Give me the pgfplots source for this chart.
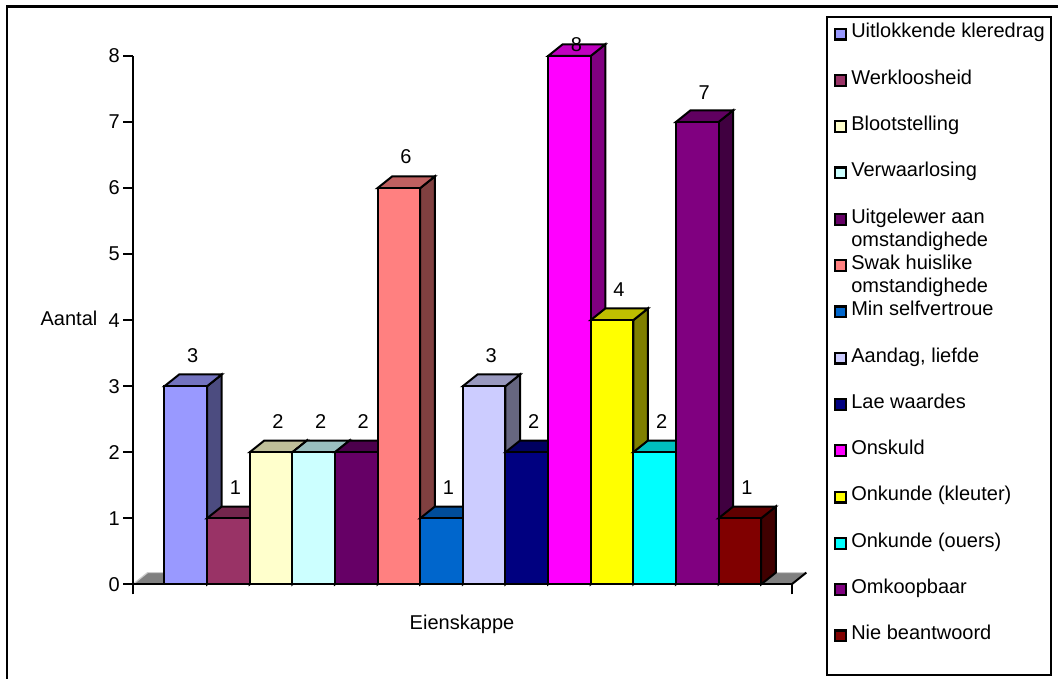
\documentclass[border=0pt]{standalone}
\usepackage{pgfplots}
\pgfplotsset{compat=1.18}
\usepackage{fontspec}
\setmainfont{Liberation Sans}
\newlength\px \setlength\px{0.75pt}
\definecolor{c0}{HTML}{9999FF}\definecolor{c1}{HTML}{993366}
\definecolor{c2}{HTML}{FFFFCC}\definecolor{c3}{HTML}{CCFFFF}
\definecolor{c4}{HTML}{660066}\definecolor{c5}{HTML}{FF8080}
\definecolor{c6}{HTML}{0066CC}\definecolor{c7}{HTML}{CCCCFF}
\definecolor{c8}{HTML}{000080}\definecolor{c9}{HTML}{FF00FF}
\definecolor{c10}{HTML}{FFFF00}\definecolor{c11}{HTML}{00FFFF}
\definecolor{c12}{HTML}{800080}\definecolor{c13}{HTML}{800000}
\newcommand\chartfont{\fontsize{15pt}{17pt}\selectfont}
\newcommand\leg[1]{\smash{\parbox[t]{200\px}{\setlength\baselineskip{23\px}#1}}}
\pgfplotsset{
  side/.style={forget plot,draw=black,line width=2\px,line join=miter,fill=#1!50!black},
  top/.style={forget plot,draw=black,line width=2\px,line join=miter,fill=#1!75!black},
  front/.style={ybar,bar shift=0pt,bar width=42.62\px,draw=black,line width=2\px,fill=#1,
    legend image code/.code={\draw[fill=#1,draw=black,line width=2.2\px] (0.6\px,-1.5\px) rectangle (11.4\px,9.3\px);
      \path[draw=none,fill=none] (0,0) -- (16.8\px,0);}},
  lab/.style={nodes near coords,
    every node near coord/.style={anchor=center,xshift=7\px,yshift=#1\px,inner sep=0pt,font=\chartfont,text=black}},
}
\begin{document}
\begin{tikzpicture}[x=1\px,y=1\px]
\useasboundingbox (0,0) rectangle (1058,679);
\fill[white] (0,0) rectangle (1058,679);
\draw[line width=2.4\px,black] (7,0) -- (7,672.5) -- (1058,672.5);
\draw[line width=2\px,black] (827,4) rectangle (1050.5,662);
\begin{axis}[
  at={(133\px,94.7\px)},anchor=south west,
  x=42.62\px,y=66.04\px,
  xmin=-0.739,xmax=14.716,ymin=0,ymax=8,
  axis lines=left,axis line style={-,line width=2\px,black},
  clip=false,axis on top,
  xtick={-0.739,14.716},xticklabels={},
  ytick={0,1,2,3,4,5,6,7,8},
  tick align=outside,major tick length=10\px,
  tick style={line width=2\px,black},
  /pgf/number format/assume math mode=true,
  tick label style={font=\chartfont},
  yticklabel style={inner sep=0pt,xshift=-3\px},
  legend cell align=left,
  legend style={at={(axis cs:-0.739,8)},anchor=north west,xshift=701\px,yshift=30\px,
    draw=none,fill=none,inner sep=0pt,outer sep=0pt,font=\chartfont,
    /tikz/column sep=0pt,/tikz/row sep=0pt,
    nodes={inner sep=0pt,outer sep=0pt,text height=12\px,text depth=34.3\px,anchor=base west}},
]
% floor
\addplot[forget plot,fill=gray,draw=none] coordinates {(-0.739,0) (14.716,0) (15.059,0.177) (-0.396,0.177)} -- cycle;
\addplot[forget plot,draw=black!20,line width=1.2\px] coordinates {(-0.739,0) (-0.396,0.177) (15.059,0.177)};
\addplot[forget plot,draw=black,line width=2\px] coordinates {(14.716,0) (15.059,0.177)};
% bar 0
\addplot[side=c0] coordinates {(1,0) (1,3) (1.343,3.177) (1.343,0.177)} -- cycle;
\addplot[top=c0] coordinates {(0,3) (1,3) (1.343,3.177) (0.343,3.177)} -- cycle;
\addplot[front=c0,lab=31] coordinates {(0.5,3)};
\addlegendentry{\leg{Uitlokkende kleredrag}}
% bar 1
\addplot[side=c1] coordinates {(2,0) (2,1) (2.343,1.177) (2.343,0.177)} -- cycle;
\addplot[top=c1] coordinates {(1,1) (2,1) (2.343,1.177) (1.343,1.177)} -- cycle;
\addplot[front=c1,lab=31] coordinates {(1.5,1)};
\addlegendentry{\leg{Werkloosheid}}
% bar 2
\addplot[side=c2] coordinates {(3,0) (3,2) (3.343,2.177) (3.343,0.177)} -- cycle;
\addplot[top=c2] coordinates {(2,2) (3,2) (3.343,2.177) (2.343,2.177)} -- cycle;
\addplot[front=c2,lab=31] coordinates {(2.5,2)};
\addlegendentry{\leg{Blootstelling}}
% bar 3
\addplot[side=c3] coordinates {(4,0) (4,2) (4.343,2.177) (4.343,0.177)} -- cycle;
\addplot[top=c3] coordinates {(3,2) (4,2) (4.343,2.177) (3.343,2.177)} -- cycle;
\addplot[front=c3,lab=31] coordinates {(3.5,2)};
\addlegendentry{\leg{Verwaarlosing}}
% bar 4
\addplot[side=c4] coordinates {(5,0) (5,2) (5.343,2.177) (5.343,0.177)} -- cycle;
\addplot[top=c4] coordinates {(4,2) (5,2) (5.343,2.177) (4.343,2.177)} -- cycle;
\addplot[front=c4,lab=31] coordinates {(4.5,2)};
\addlegendentry{\leg{Uitgelewer aan\\omstandighede}}
% bar 5
\addplot[side=c5] coordinates {(6,0) (6,6) (6.343,6.177) (6.343,0.177)} -- cycle;
\addplot[top=c5] coordinates {(5,6) (6,6) (6.343,6.177) (5.343,6.177)} -- cycle;
\addplot[front=c5,lab=31] coordinates {(5.5,6)};
\addlegendentry{\leg{Swak huislike\\omstandighede}}
% bar 6
\addplot[side=c6] coordinates {(7,0) (7,1) (7.343,1.177) (7.343,0.177)} -- cycle;
\addplot[top=c6] coordinates {(6,1) (7,1) (7.343,1.177) (6.343,1.177)} -- cycle;
\addplot[front=c6,lab=31] coordinates {(6.5,1)};
\addlegendentry{\leg{Min selfvertroue}}
% bar 7
\addplot[side=c7] coordinates {(8,0) (8,3) (8.343,3.177) (8.343,0.177)} -- cycle;
\addplot[top=c7] coordinates {(7,3) (8,3) (8.343,3.177) (7.343,3.177)} -- cycle;
\addplot[front=c7,lab=31] coordinates {(7.5,3)};
\addlegendentry{\leg{Aandag, liefde}}
% bar 8
\addplot[side=c8] coordinates {(9,0) (9,2) (9.343,2.177) (9.343,0.177)} -- cycle;
\addplot[top=c8] coordinates {(8,2) (9,2) (9.343,2.177) (8.343,2.177)} -- cycle;
\addplot[front=c8,lab=31] coordinates {(8.5,2)};
\addlegendentry{\leg{Lae waardes}}
% bar 9
\addplot[side=c9] coordinates {(10,0) (10,8) (10.343,8.177) (10.343,0.177)} -- cycle;
\addplot[top=c9] coordinates {(9,8) (10,8) (10.343,8.177) (9.343,8.177)} -- cycle;
\addplot[front=c9,lab=11] coordinates {(9.5,8)};
\addlegendentry{\leg{Onskuld}}
% bar 10
\addplot[side=c10] coordinates {(11,0) (11,4) (11.343,4.177) (11.343,0.177)} -- cycle;
\addplot[top=c10] coordinates {(10,4) (11,4) (11.343,4.177) (10.343,4.177)} -- cycle;
\addplot[front=c10,lab=31] coordinates {(10.5,4)};
\addlegendentry{\leg{Onkunde (kleuter)}}
% bar 11
\addplot[side=c11] coordinates {(12,0) (12,2) (12.343,2.177) (12.343,0.177)} -- cycle;
\addplot[top=c11] coordinates {(11,2) (12,2) (12.343,2.177) (11.343,2.177)} -- cycle;
\addplot[front=c11,lab=31] coordinates {(11.5,2)};
\addlegendentry{\leg{Onkunde (ouers)}}
% bar 12
\addplot[side=c12] coordinates {(13,0) (13,7) (13.343,7.177) (13.343,0.177)} -- cycle;
\addplot[top=c12] coordinates {(12,7) (13,7) (13.343,7.177) (12.343,7.177)} -- cycle;
\addplot[front=c12,lab=29] coordinates {(12.5,7)};
\addlegendentry{\leg{Omkoopbaar}}
% bar 13
\addplot[side=c13] coordinates {(14,0) (14,1) (14.343,1.177) (14.343,0.177)} -- cycle;
\addplot[top=c13] coordinates {(13,1) (14,1) (14.343,1.177) (13.343,1.177)} -- cycle;
\addplot[front=c13,lab=31] coordinates {(13.5,1)};
\addlegendentry{\leg{Nie beantwoord}}
\end{axis}
\node[font=\chartfont,inner sep=0pt] at (69,361) {Aantal};
\node[font=\chartfont,inner sep=0pt] at (462,55) {Eienskappe};
\end{tikzpicture}
\end{document}
